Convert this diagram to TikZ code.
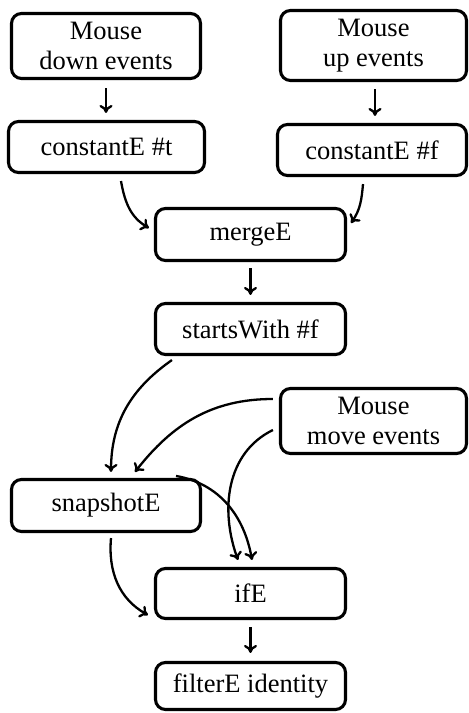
\documentclass[tikz,border=0pt]{standalone}
\usepackage{fontspec}
\setmainfont{Liberation Serif}
\usetikzlibrary{arrows.meta,calc}
\begin{document}
\begin{tikzpicture}[x=1pt,y=1pt,
  box/.style={draw, line width=3.1pt, rounded corners=10pt, align=center,
    font=\fontsize{26.5}{30}\selectfont, inner sep=0pt},
  arr/.style={line width=2.3pt, -{To[length=8pt,width=13pt]}}]
\useasboundingbox (0,0) rectangle (469,713);
\node[box, minimum width=189pt, minimum height=65pt] (down) at (106,667) {Mouse\\down events};
\node[box, minimum width=186pt, minimum height=70pt] (up) at (373.5,667.5) {Mouse\\up events};
\node[box, minimum width=196pt, minimum height=51pt] (cT) at (106.5,566) {constantE \#t};
\node[box, minimum width=189pt, minimum height=51pt] (cF) at (372,563) {constantE \#f};
\node[box, minimum width=190pt, minimum height=52pt] (mergeE) at (250.5,478.5) {mergeE};
\node[box, minimum width=190pt, minimum height=51pt] (sw) at (250.5,384) {startsWith \#f};
\node[box, minimum width=186pt, minimum height=65pt] (move) at (373.5,292) {Mouse\\move events};
\node[box, minimum width=189pt, minimum height=52pt] (snap) at (106,207.5) {snapshotE};
\node[box, minimum width=190pt, minimum height=50pt] (ifE) at (250.5,119.5) {ifE};
\node[box, minimum width=190pt, minimum height=47pt] (filt) at (250.5,27) {filterE identity};

\draw[arr] ($(down.south)+(0,-8)$) -- ($(down.south|-cT.north)+(0,7)$);
\draw[arr] ($(up.south)+(1.5,-7)$) -- ($(up.south|-cF.north)+(1.5,7)$);
\draw[arr] ($(cT.south)+(14.5,-7)$) to[out=-80,in=150] ($(mergeE.west)+(-5,6.5)$);
\draw[arr] ($(cF.south)+(-9,-7)$) to[out=-95,in=55] ($(mergeE.east)+(4,11.5)$);
\draw[arr] ($(mergeE.south)+(0,-6)$) -- ($(sw.north)+(0,7)$);
\draw[arr] ($(sw.south west)+(18,-4)$) to[out=215,in=90] ($(snap.north)+(5,6)$);
\draw[arr] ($(move.west)+(-6,22)$) to[out=180,in=52] ($(snap.north)+(29,6)$);
\draw[arr] ($(move.west)+(-6,-9)$) to[out=206,in=110] ($(ifE.north)+(-12.5,7)$);
\draw[arr] ($(snap.north east)+(-26,2)$) to[out=-10,in=100] ($(ifE.north)+(1.5,7)$);
\draw[arr] ($(snap.south)+(5,-5)$) to[out=-95,in=151] ($(ifE.west)+(-6,-21.5)$);
\draw[arr] ($(ifE.south)+(0,-7)$) -- ($(filt.north)+(0,8)$);
\end{tikzpicture}
\end{document}
